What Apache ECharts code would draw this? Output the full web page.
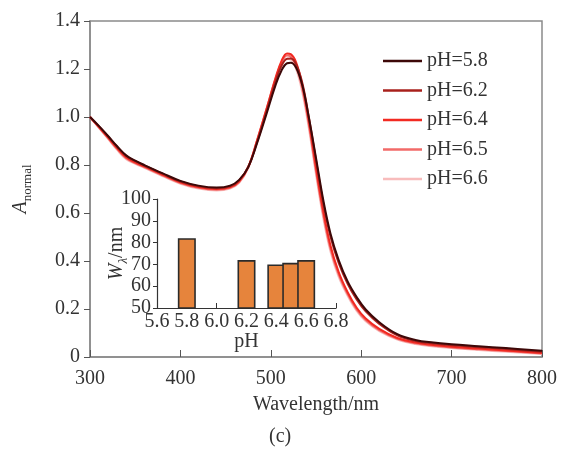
<!DOCTYPE html>
<html>
<head>
<meta charset="utf-8">
<script src="https://cdn.jsdelivr.net/npm/echarts@6/dist/echarts.min.js"></script>
<style>
html,body{margin:0;padding:0;background:#fff;}
#chart{width:561px;height:451px;}
</style>
</head>
<body>
<div id="chart"></div>
<script>
var wavelength = [300,310,320,330,340,350,360,380,400,420,440,455,465,475,485,495,505,512,518,522,528,535,542,550,558,566,575,585,595,605,620,640,660,680,700,730,760,800];
var ph58 = [1.0,0.962,0.921,0.878,0.84,0.818,0.800,0.766,0.734,0.714,0.706,0.714,0.738,0.79,0.893,1.01,1.13,1.195,1.224,1.226,1.205,1.13,1.0,0.83,0.655,0.515,0.405,0.315,0.25,0.198,0.145,0.095,0.071,0.06,0.053,0.045,0.037,0.026];
var ph62 = [1.0,0.961,0.919,0.876,0.838,0.816,0.798,0.764,0.731,0.711,0.703,0.711,0.736,0.792,0.898,1.02,1.145,1.215,1.243,1.244,1.22,1.14,1.0,0.82,0.642,0.502,0.393,0.305,0.24,0.19,0.138,0.09,0.067,0.056,0.049,0.041,0.033,0.022];
var ph64 = [1.0,0.958,0.915,0.871,0.832,0.811,0.794,0.76,0.728,0.708,0.700,0.708,0.732,0.792,0.905,1.03,1.16,1.235,1.265,1.262,1.228,1.13,0.985,0.79,0.61,0.465,0.355,0.27,0.205,0.16,0.117,0.079,0.06,0.05,0.043,0.035,0.027,0.017];
var ph65 = [1.0,0.956,0.912,0.867,0.828,0.808,0.791,0.757,0.725,0.705,0.697,0.705,0.729,0.79,0.905,1.03,1.155,1.228,1.256,1.252,1.215,1.115,0.97,0.775,0.595,0.452,0.345,0.262,0.198,0.154,0.112,0.076,0.057,0.047,0.04,0.032,0.025,0.015];
var ph66 = [1.0,0.954,0.909,0.863,0.824,0.805,0.788,0.754,0.722,0.702,0.694,0.702,0.726,0.787,0.9,1.022,1.145,1.215,1.243,1.24,1.2,1.1,0.955,0.76,0.58,0.44,0.335,0.255,0.192,0.149,0.108,0.073,0.054,0.044,0.037,0.029,0.022,0.013];
var seriesNames = ['pH=5.8','pH=6.2','pH=6.4','pH=6.5','pH=6.6'];
var seriesColors = ['#3d0808','#a8201c','#f22a22','#f26a68','#f8bcbc'];

// inset: bandwidth vs pH
var insetPH = [5.8, 6.2, 6.4, 6.5, 6.6];
var insetW = [82, 72, 70, 70.7, 72];

var font = '"Liberation Serif","Times New Roman",serif';
var myChart = echarts.init(document.getElementById('chart'));

function pairs(ys){
    var out = [];
    for (var i = 0; i < wavelength.length; i++) out.push([wavelength[i], ys[i]]);
    return out;
}
var curves = [ph58, ph62, ph64, ph65, ph66];
var series = [];
// light ones first so the dark curve stays on top
for (var k = curves.length - 1; k >= 0; k--) {
    series.push({
        name: seriesNames[k],
        type: 'line',
        xAxisIndex: 0, yAxisIndex: 0,
        data: pairs(curves[k]),
        smooth: 0.4,
        symbol: 'none',
        lineStyle: {width: 2, color: seriesColors[k]},
        itemStyle: {color: seriesColors[k]},
        z: 2 + (curves.length - k)
    });
}
var bars = [];
for (var j = 0; j < insetPH.length; j++) bars.push([insetPH[j], insetW[j]]);
series.push({
    type: 'bar',
    xAxisIndex: 1, yAxisIndex: 1,
    data: bars,
    barWidth: 18,
    itemStyle: {color: '#e6843c', borderColor: '#2b2b2b', borderWidth: 1.6},
    z: 10
});

var legendData = [];
for (var m = 0; m < seriesNames.length; m++) legendData.push({name: seriesNames[m], icon: 'rect'});

option = {
    backgroundColor: '#fff',
    animation: false,
    textStyle: {fontFamily: font},
    legend: {
        data: legendData,
        orient: 'vertical',
        left: 378, top: 45,
        itemWidth: 39, itemHeight: 2.5, itemGap: 7.5,
        textStyle: {fontFamily: font, fontSize: 20, color: '#333', lineHeight: 22}
    },
    grid: [
        {left: 90, right: 19, top: 21, bottom: 94, show: true, borderColor: '#8a8a8a', borderWidth: 1.5},
        {left: 157, right: 225, top: 199, bottom: 143}
    ],
    xAxis: [
        {
            gridIndex: 0, type: 'value', min: 300, max: 800, interval: 100,
            name: 'Wavelength/nm', nameLocation: 'middle', nameGap: 38,
            nameTextStyle: {fontFamily: font, fontSize: 20, color: '#333'},
            axisLine: {lineStyle: {color: '#8a8a8a', width: 1.5}},
            axisTick: {inside: true, length: 7, lineStyle: {color: '#555'}},
            axisLabel: {fontFamily: font, fontSize: 20, color: '#333', margin: 12},
            splitLine: {show: false}
        },
        {
            gridIndex: 1, type: 'value', min: 5.6, max: 6.8, interval: 0.2,
            name: 'pH', nameLocation: 'middle', nameGap: 24, nameMoveOverlap: false,
            nameTextStyle: {fontFamily: font, fontSize: 20, color: '#333'},
            axisLine: {lineStyle: {color: '#333', width: 1.2}},
            axisTick: {inside: true, length: 5, lineStyle: {color: '#333'}},
            axisLabel: {fontFamily: font, fontSize: 20, color: '#333', margin: 4,
                formatter: function(v){ return v.toFixed(1); }},
            splitLine: {show: false}
        }
    ],
    yAxis: [
        {
            gridIndex: 0, type: 'value', min: 0, max: 1.4, interval: 0.2,
            name: '{a|A}{s|normal}', nameLocation: 'middle', nameGap: 56,
            nameTextStyle: {
                rich: {
                    a: {fontFamily: font, fontSize: 20, fontStyle: 'italic', color: '#333', lineHeight: 26, verticalAlign: 'middle'},
                    s: {fontFamily: font, fontSize: 13, color: '#333', lineHeight: 26, verticalAlign: 'bottom', padding: [9, 0, 0, 0]}
                }
            },
            axisLine: {lineStyle: {color: '#8a8a8a', width: 1.5}},
            axisTick: {inside: false, length: 6, lineStyle: {color: '#555'}},
            axisLabel: {fontFamily: font, fontSize: 20, color: '#333', margin: 10,
                formatter: function(v){ return v === 0 ? '0' : v.toFixed(1); }},
            splitLine: {show: false}
        },
        {
            gridIndex: 1, type: 'value', min: 50, max: 100, interval: 10,
            name: '{a|W}{s|λ}{b|/nm}', nameLocation: 'middle', nameGap: 27, nameMoveOverlap: false,
            nameTextStyle: {
                rich: {
                    a: {fontFamily: font, fontSize: 20, fontStyle: 'italic', color: '#333', lineHeight: 26, verticalAlign: 'middle'},
                    s: {fontFamily: font, fontSize: 13, fontStyle: 'italic', color: '#333', lineHeight: 26, verticalAlign: 'bottom', padding: [9, 0, 0, 0]},
                    b: {fontFamily: font, fontSize: 20, color: '#333', lineHeight: 26, verticalAlign: 'middle'}
                }
            },
            axisLine: {lineStyle: {color: '#333', width: 1.2}},
            axisTick: {inside: false, length: 4, lineStyle: {color: '#333'}},
            axisLabel: {fontFamily: font, fontSize: 20, color: '#333', margin: 6},
            splitLine: {show: false}
        }
    ],
    graphic: [
        {type: 'text', left: 269, top: 427,
         style: {text: '(c)', font: '20px ' + font, fill: '#333'}}
    ],
    series: series
};
myChart.setOption(option);
window.addEventListener('resize', function(){ myChart.resize(); });
</script>
</body>
</html>
